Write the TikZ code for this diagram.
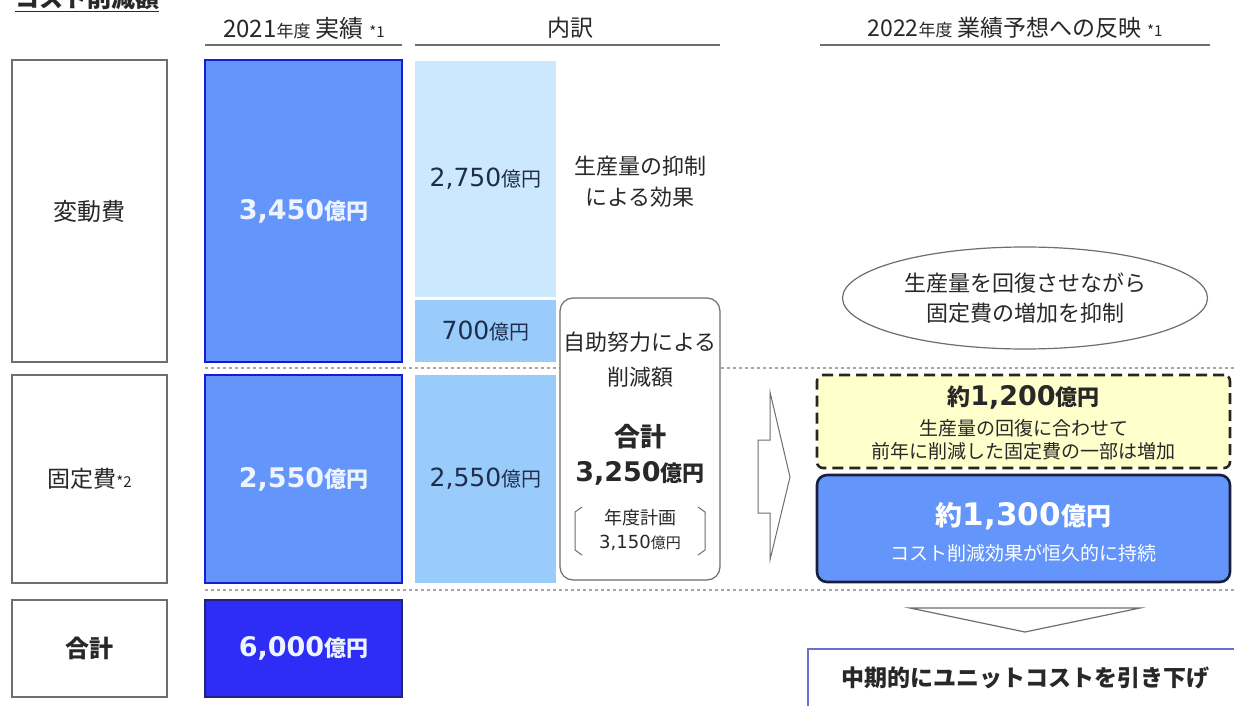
\documentclass[tikz,border=0pt]{standalone}
\usepackage{fontspec}
\setmainfont{Noto Sans CJK JP}
\newfontfamily\nf{DejaVu Sans}
\usetikzlibrary{shapes.geometric}
\definecolor{bluefill}{RGB}{100,149,250}
\definecolor{blueedge}{RGB}{25,25,215}
\definecolor{deepblue}{RGB}{45,45,245}
\definecolor{deepedge}{RGB}{35,35,120}
\definecolor{lightA}{RGB}{204,232,255}
\definecolor{lightB}{RGB}{153,204,250}
\definecolor{navytext}{RGB}{31,45,75}
\definecolor{sepgray}{RGB}{165,165,165}
\definecolor{yel}{RGB}{255,255,204}
\definecolor{navy}{RGB}{25,30,60}
\definecolor{purpleedge}{RGB}{110,110,210}
\definecolor{linegray}{RGB}{110,110,110}
\definecolor{txt}{RGB}{40,40,40}
\newcommand\fs[2]{\fontsize{#1}{#2}\selectfont}
\newcommand\bignum[1]{{\nf\bfseries\fs{27}{30}#1}{\bfseries\fs{22}{24}億円}}
\begin{document}
\begin{tikzpicture}[x=1pt,y=-1pt,
  labelbox/.style={draw=linegray, line width=1.8pt, fill=white, minimum width=155pt, inner sep=0, text=txt},
  bluebox/.style={draw=blueedge, line width=2pt, fill=bluefill, minimum width=197pt, inner sep=0, text={rgb,255:red,238;green,244;blue,255}},
  lightbox/.style={minimum width=141pt, inner sep=0, text=navytext},
  hdrline/.style={draw=linegray, line width=1.5pt},
  sepline/.style={draw=sepgray, line width=1.6pt, dash pattern=on 3pt off 3pt},
  plain/.style={inner sep=0, align=center, text=txt}
]
\clip (0,0) rectangle (1234,706);
\fill[white] (0,0) rectangle (1234,706);

% title (cut at top)
\node[anchor=base west, inner sep=0, text=txt] (title) at (15,8) {\fs{24}{28}\bfseries\underline{コスト削減額}};

% headers
\node[plain] (h1) at (304,28) {\fs{24}{28}2021{\fs{17}{20}年度} 実績 {\fs{15}{16}*1}};
\node[plain] (h2) at (570,28) {\fs{23}{26}内訳};
\node[plain] (h3) at (1015,28) {\fs{23}{28}2022{\fs{17}{20}年度} 業績予想への反映 {\fs{15}{16}*1}};
\coordinate (h1a) at (205,45); \coordinate (h1b) at (402,45);
\coordinate (h2a) at (415,45); \coordinate (h2b) at (720,45);
\coordinate (h3a) at (820,45); \coordinate (h3b) at (1210,45);
\draw[hdrline] (h1a) -- (h1b);
\draw[hdrline] (h2a) -- (h2b);
\draw[hdrline] (h3a) -- (h3b);

% separators
\coordinate (s1a) at (205,368); \coordinate (s1b) at (1234,368);
\coordinate (s2a) at (205,590); \coordinate (s2b) at (1234,590);
\draw[sepline] (s1a) -- (s1b);
\draw[sepline] (s2a) -- (s2b);

% left labels
\node[labelbox, minimum height=302pt] (vbox) at (89.5,211) {\fs{24}{26}変動費};
\node[labelbox, minimum height=208pt] (fbox) at (89.5,479) {\fs{23}{26}固定費{\fs{15}{16}*2}};
\node[labelbox, minimum height=97pt] (tbox) at (89.5,648.5) {\fs{24}{26}\bfseries 合計};

% blue column
\node[bluebox, minimum height=302pt] (b1) at (303.5,211) {\bignum{3,450}};
\node[bluebox, minimum height=208pt] (b2) at (303.5,479) {\bignum{2,550}};
\node[bluebox, minimum height=97pt, fill=deepblue, draw=deepedge] (b3) at (303.5,648.5) {\bignum{6,000}};

% breakdown column
\node[lightbox, fill=lightA, minimum height=236pt] (l1) at (485.5,179) {{\nf\fs{25}{28}2,750}{\fs{20}{22}億円}};
\node[lightbox, fill=lightB, minimum height=62pt] (l2) at (485.5,331) {{\nf\fs{25}{28}700}{\fs{20}{22}億円}};
\node[lightbox, fill=lightB, minimum height=208pt] (l3) at (485.5,479) {{\nf\fs{25}{28}2,550}{\fs{20}{22}億円}};
\node[plain, font=\fs{22}{31}] (eff) at (640,182) {生産量の抑制\\による効果};

% self-help box
\node[draw=linegray, line width=1.2pt, rounded corners=13pt, fill=white, minimum width=160pt, minimum height=282pt, inner sep=0] (rb) at (640,439) {};
\node[plain] (rb1) at (640,342) {\fs{22}{24}自助努力による};
\node[plain] (rb2) at (640,377) {\fs{22}{24}削減額};
\node[plain] (rb3) at (640,437) {\fs{26}{28}\bfseries 合計};
\node[plain] (rb4) at (640,473) {{\nf\bfseries\fs{27}{30}3,250}{\bfseries\fs{22}{24}億円}};
\node[plain] (rb5) at (640,518) {\fs{18}{20}年度計画};
\node[plain] (rb6) at (640,543) {{\nf\fs{18}{20}3,150}{\fs{15}{16}億円}};
\coordinate (bl1) at (582,507); \coordinate (bl2) at (575,512); \coordinate (bl3) at (575,550); \coordinate (bl4) at (582,555);
\coordinate (br1) at (698,507); \coordinate (br2) at (705,512); \coordinate (br3) at (705,550); \coordinate (br4) at (698,555);
\draw[linegray, line width=1pt] (bl1) -- (bl2) -- (bl3) -- (bl4);
\draw[linegray, line width=1pt] (br1) -- (br2) -- (br3) -- (br4);

% block arrow
\draw[linegray, line width=1pt, fill=white] (758,440) -- (770,440) -- (770,392) -- (790,477) -- (770,560) -- (770,513) -- (758,513) -- cycle;

% ellipse
\node[ellipse, draw=linegray, line width=1.2pt, fill=white, minimum width=365pt, minimum height=102pt, inner sep=0, align=center, text=txt, font=\fs{22}{30}] (ell) at (1025,298) {生産量を回復させながら\\固定費の増加を抑制};

% yellow dashed box
\node[draw=black!85, line width=2.6pt, dash pattern=on 11pt off 6pt, rounded corners=6pt, fill=yel, minimum width=413pt, minimum height=93pt, inner sep=0] (ybox) at (1023.5,421.5) {};
\node[plain] (y1) at (1023.5,397) {{\bfseries\fs{23}{24}約}{\nf\bfseries\fs{27}{30}1,200}{\bfseries\fs{22}{24}億円}};
\node[plain] (y2) at (1023.5,428) {\fs{19}{20}生産量の回復に合わせて};
\node[plain] (y3) at (1023.5,451) {\fs{19}{20}前年に削減した固定費の一部は増加};

% blue rounded box
\node[draw=navy, line width=2.6pt, rounded corners=10pt, fill=bluefill, minimum width=413pt, minimum height=107pt, inner sep=0] (pbox) at (1023.5,528.5) {};
\node[plain, text=white] (p1) at (1023.5,516) {{\bfseries\fs{27}{30}約}{\nf\bfseries\fs{31}{34}1,300}{\bfseries\fs{25}{28}億円}};
\node[plain, text=white] (p2) at (1023.5,553) {\fs{19}{20}コスト削減効果が恒久的に持続};

% down chevron
\draw[linegray, line width=1.2pt, fill=white] (910,608) -- (1140,608) -- (1025,632) -- cycle;

% bottom box
\node[draw=purpleedge, line width=2.2pt, fill=white, minimum width=440pt, minimum height=70pt, inner sep=0, anchor=north west] (bbox) at (807,648) {};
\node[plain] (bt) at (1025,678) {\fs{23}{26}\bfseries 中期的にユニットコストを引き下げ};
\end{tikzpicture}
\end{document}
